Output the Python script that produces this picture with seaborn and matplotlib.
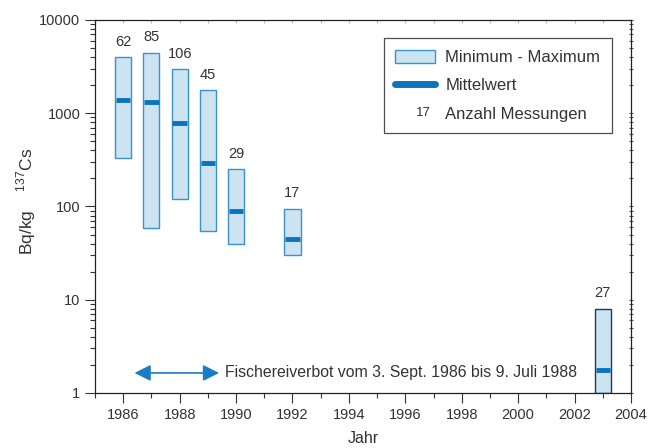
import matplotlib
matplotlib.use("Agg")
import matplotlib.pyplot as plt
import matplotlib.ticker as mtick
from matplotlib.patches import Patch
from matplotlib.lines import Line2D
from matplotlib.legend_handler import HandlerBase
import numpy as np
import seaborn as sns

years = [1986, 1987, 1988, 1989, 1990, 1992, 2003]
min_vals = [330, 59, 119, 55, 40, 30, 1.0]
max_vals = [4000, 4450, 2980, 1780, 250, 95, 8.0]
mean_vals = [1380, 1330, 780, 295, 89, 44.5, 1.77]
counts = [62, 85, 106, 45, 29, 17, 27]
x_ticks = list(range(1986, 2005, 2))

fill_c = "#cce3f2"
edge_c = "#3a92d2"
mean_c = "#0b74bd"
text_c = "#333333"

sns.set_style("ticks")
plt.rcParams["font.family"] = ["Liberation Sans", "DejaVu Sans"]
plt.rcParams["mathtext.fontset"] = "custom"
plt.rcParams["mathtext.rm"] = "Liberation Sans"
plt.rcParams["text.color"] = text_c
plt.rcParams["axes.labelcolor"] = text_c
plt.rcParams["xtick.color"] = text_c
plt.rcParams["ytick.color"] = text_c

fig = plt.figure(figsize=(6.48, 4.48), dpi=100)
ax = fig.add_axes([0.1466, 0.1228, 0.8272, 0.8326])
ax.set_yscale("log")

w = 0.57
heights = np.array(max_vals) - np.array(min_vals)
sns.barplot(x=years, y=heights, bottom=min_vals, native_scale=True, width=w,
            color=fill_c, saturation=1, edgecolor=edge_c, linewidth=1.0, ax=ax)
# the 2003 box has a darker outline
ax.patches[-1].set_edgecolor("#1d3a57")

for yr, m, top, n in zip(years, mean_vals, max_vals, counts):
    ax.hlines(m, yr - w / 2 + 0.03, yr + w / 2 - 0.03, color=mean_c, lw=3.5, zorder=3)
    ax.annotate(str(n), (yr, top), xytext=(0, 6), textcoords="offset points",
                ha="center", va="bottom", fontsize=10.5)

ax.set_xlim(1985, 2004)
ax.set_ylim(1, 10000)
ax.set_xticks(x_ticks)
ax.xaxis.set_minor_locator(mtick.MultipleLocator(1))
ax.yaxis.set_major_formatter(mtick.FuncFormatter(lambda v, p: f"{v:g}"))
ax.yaxis.set_minor_locator(mtick.LogLocator(base=10, subs=np.arange(2, 10)))
ax.yaxis.set_minor_formatter(mtick.NullFormatter())
ax.tick_params(axis="both", which="major", labelsize=10.5, length=7, width=0.8,
               direction="out")
ax.tick_params(axis="both", which="minor", length=3.5, width=0.8, direction="out")
# faint inward ticks on top, small crossing ticks on the right
sec_x = ax.secondary_xaxis("top")
sec_x.set_xticks(range(1985, 2005))
sec_x.tick_params(direction="in", length=2.5, color="#bbbbbb", labeltop=False)
sec_x.spines["top"].set_visible(False)
sec_y = ax.secondary_yaxis("right")
sec_y.tick_params(which="both", direction="inout", length=3.5, width=0.8,
                  color="#555555", labelright=False)
sec_y.yaxis.set_minor_locator(mtick.LogLocator(base=10, subs=np.arange(2, 10)))
sec_y.yaxis.set_minor_formatter(mtick.NullFormatter())
sec_y.spines["right"].set_visible(False)
for s in ax.spines.values():
    s.set_linewidth(0.9)
    s.set_color("#222222")

ax.set_xlabel("Jahr", fontsize=11.5)
ax.set_ylabel(r"Bq/kg    $^{\mathregular{137}}$Cs", fontsize=12.5)
ax.xaxis.set_label_coords(0.5, -0.102)
ax.yaxis.set_label_coords(-0.106, 0.515)

# fishing ban arrow
ax.annotate("", xy=(1986.4, 1.64), xytext=(1989.4, 1.64),
            arrowprops=dict(arrowstyle="<|-|>,head_length=0.7,head_width=0.35",
                            color="#1a7dc4", lw=1.2, mutation_scale=14,
                            shrinkA=0, shrinkB=0))
ax.text(1989.6, 1.64, "Fischereiverbot vom 3. Sept. 1986 bis 9. Juli 1988",
        va="center", ha="left", fontsize=11.4)


class TextHandler(HandlerBase):
    def create_artists(self, legend, orig_handle, xdescent, ydescent, width,
                       height, fontsize, trans):
        t = plt.Text(width * 0.72, height / 2 - ydescent, "17", ha="center",
                     va="center", fontsize=9.5, color=text_c, transform=trans)
        return [t]


class CountHandle:
    pass


handles = [Patch(facecolor=fill_c, edgecolor=edge_c, linewidth=1.0),
           Line2D([], [], color=mean_c, lw=5, solid_capstyle="round"),
           CountHandle()]
labels = ["Minimum - Maximum", "Mittelwert", "Anzahl Messungen"]
leg = ax.legend(handles, labels, loc="upper right", bbox_to_anchor=(0.9646, 0.9517),
                borderaxespad=0, fontsize=12, frameon=True, fancybox=False,
                edgecolor="#222222", handlelength=2.35, handleheight=0.9,
                handletextpad=0.65, labelspacing=0.75, borderpad=0.7,
                handler_map={CountHandle: TextHandler()})
leg.get_frame().set_linewidth(0.9)

fig.savefig("out.png", dpi=100)
